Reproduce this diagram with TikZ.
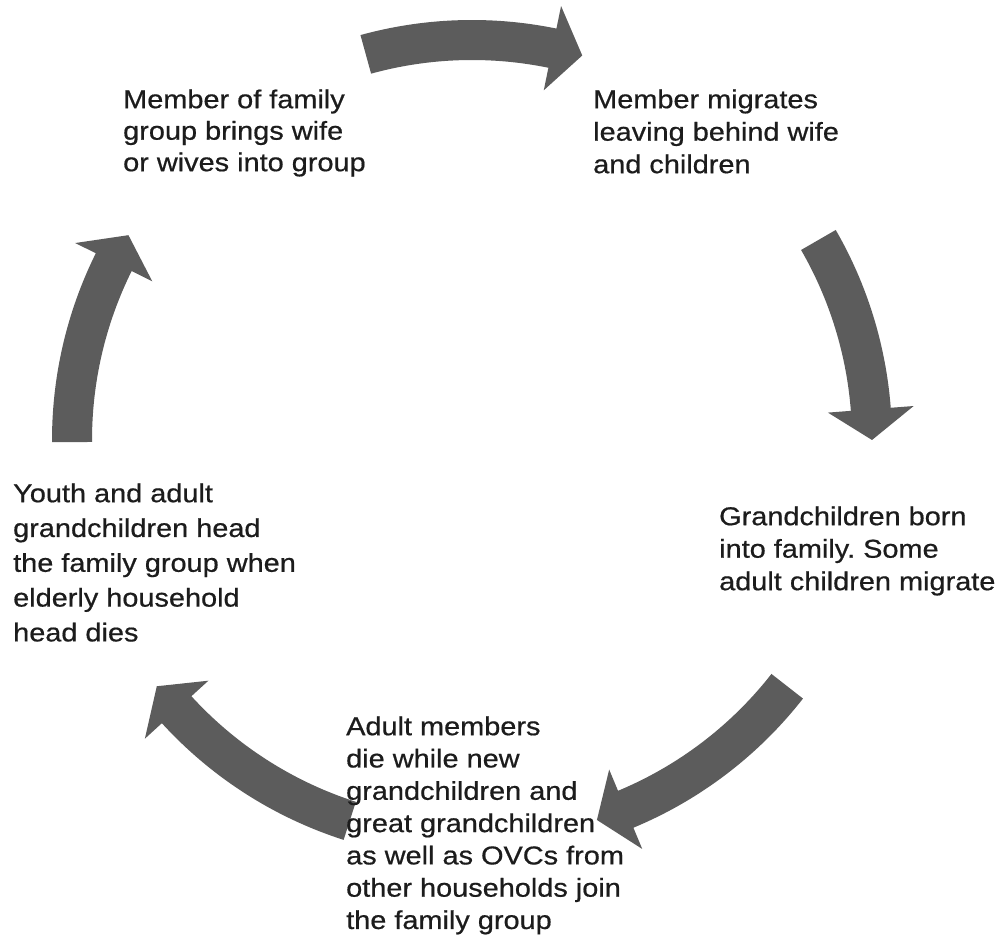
\documentclass[tikz,border=0pt]{standalone}
\usepackage{fontspec}
\setmainfont{Liberation Sans}[FakeStretch=1.12, FakeBold=0.6]
\usetikzlibrary{calc}
\definecolor{arrowgray}{RGB}{92,92,92}
\definecolor{txtcol}{RGB}{28,28,28}
\frenchspacing
\newcommand\cycarrow[2]{% start angle, end angle (clockwise)
  \fill[cycfill] ($(c)+(#1:420pt)$) arc[start angle=#1, end angle={#2+4.4}, radius=420pt]
    -- ($(c)+({#2+4.4}:443pt)$) -- ($(c)+(#2:400pt)$) -- ($(c)+({#2+4.4}:357pt)$)
    -- ($(c)+({#2+4.4}:380pt)$) arc[start angle={#2+4.4}, end angle=#1, radius=380pt] -- cycle;}
\begin{document}
\begin{tikzpicture}[x=1pt,y=1pt,
  cycfill/.style={fill=arrowgray},
  stagetext/.style={anchor=north west, inner sep=0pt, align=left, text=txtcol,
    font=\fontsize{25.8}{32.5}\selectfont}]
\useasboundingbox (0,0) rectangle (1005,949);
\fill[white] (0,0) rectangle (1005,949);
\coordinate (c) at (472,509);
% curved block arrows
\cycarrow{105.4}{74}
\cycarrow{30}{0}
\cycarrow{-38}{-71.8}
\cycarrow{-107.8}{-142}
\cycarrow{180.3}{149.2}
% stage texts
\node[stagetext, font=\fontsize{25.8}{31.5}\selectfont\frenchspacing] (tl) at (123,861)
  {\rule{0pt}{20pt}Member of family\\group brings wife\\or wives into group};
\node[stagetext, font=\fontsize{25.8}{32.5}\selectfont\frenchspacing] (tr) at (593,861)
  {\rule{0pt}{20pt}Member migrates\\leaving behind wife\\and children};
\node[stagetext, font=\fontsize{25.8}{32.5}\selectfont\frenchspacing] (r) at (719,444)
  {\rule{0pt}{20pt}Grandchildren born\\into family. Some\\adult children migrate};
\node[stagetext, font=\fontsize{25.8}{32.3}\selectfont\frenchspacing] (b) at (346,234)
  {\rule{0pt}{20pt}Adult members\\die while new\\grandchildren and\\great grandchildren\\as well as OVCs from\\other households join\\the family group};
\node[stagetext, font=\fontsize{25.8}{34.8}\selectfont\frenchspacing] (l) at (13,467)
  {\rule{0pt}{20pt}Youth and adult\\grandchildren head\\the family group when\\elderly household\\head dies};
\end{tikzpicture}
\end{document}
